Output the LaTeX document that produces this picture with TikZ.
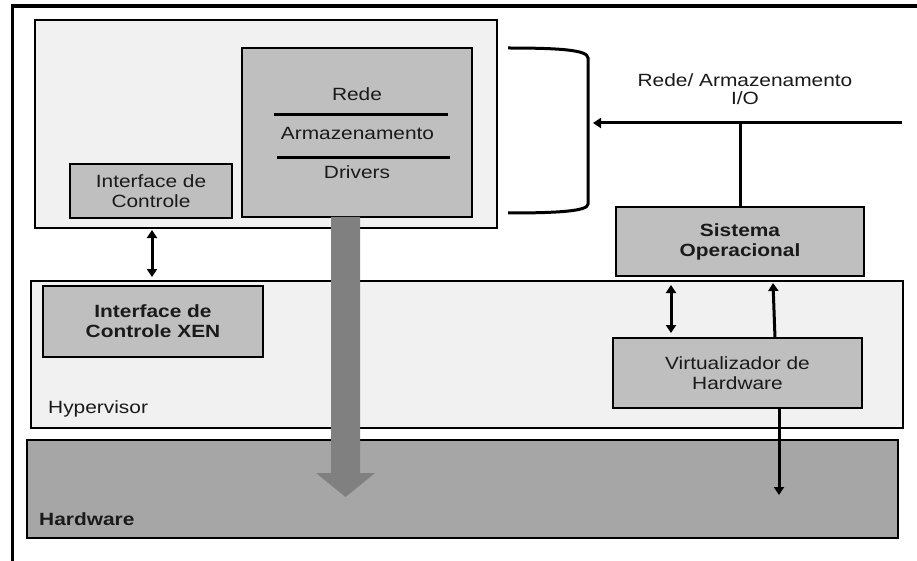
\documentclass[tikz,border=0pt]{standalone}
\usepackage{fontspec}
\setmainfont{Liberation Sans}[FakeStretch=1.18]
\usetikzlibrary{arrows.meta}
\definecolor{panel}{HTML}{F1F1F1}
\definecolor{boxgray}{HTML}{BFBFBF}
\definecolor{hwgray}{HTML}{A6A6A6}
\definecolor{flowgray}{HTML}{808080}
\definecolor{ink}{HTML}{1A1A1A}
\begin{document}
\begin{tikzpicture}[x=1pt,y=-1pt,
  panelbox/.style={draw, line width=2pt, fill=panel, inner sep=0, outer sep=0},
  box/.style={draw, line width=2pt, fill=boxgray, inner sep=0, outer sep=0,
    text=ink, font=\fontsize{17.7}{20}\selectfont, align=center},
  hwbox/.style={draw, line width=2pt, fill=hwgray, inner sep=0, outer sep=0},
  lbl/.style={text=ink, font=\fontsize{17.7}{20}\selectfont, align=center, inner sep=0},
  conn/.style={line width=3pt, -{Triangle[length=8pt,width=10pt]}},
  dbl/.style={line width=3pt, {Triangle[length=8pt,width=10pt]}-{Triangle[length=8pt,width=10pt]}},
  ]
\useasboundingbox (0,0) rectangle (917,561);
\fill[white] (0,0) rectangle (917,561);

% outer frame
\draw[line width=3.2pt] (12.7,565) -- (12.7,6) -- (920,6);

% domain 0 panel with its driver stack and control interface
\node[panelbox, minimum width=462pt, minimum height=208pt] (dom0) at (266,124) {};
\node[box, minimum width=230pt, minimum height=169pt] (drv) at (357,132.5) {};
\node[lbl] (rede) at (357,94) {Rede};
\node[lbl] (armaz) at (357.5,133) {Armazenamento};
\node[lbl] (drivers) at (357,172) {Drivers};
\draw[line width=3pt] (274,115) -- (448,115);
\draw[line width=3pt] (277,158) -- (450,158);
\node[box, minimum width=162pt, minimum height=54pt] (ctl) at (151,191) {Interface de\\Controle};

% hypervisor layer
\node[panelbox, minimum width=872pt, minimum height=147pt] (hyp) at (467,354.5) {};
\node[box, minimum width=220pt, minimum height=71pt, font=\fontsize{17.7}{20}\selectfont\bfseries] (xen) at (153,321.5) {Interface de\\Controle XEN};
\node[box, minimum width=249pt, minimum height=70pt] (virt) at (737.5,373) {Virtualizador de\\Hardware};
\node[lbl, anchor=west] (hyplbl) at (48,409) {Hypervisor};

% hardware layer
\node[hwbox, minimum width=871pt, minimum height=98pt] (hw) at (462.5,489) {};
\node[lbl, anchor=west, font=\fontsize{17.7}{20}\selectfont\bfseries] (hwlbl) at (39,519) {Hardware};

% wide flow from the driver stack down to the hardware
\fill[flowgray] (331,217) -- (331,473) -- (316,473) -- (345.5,497) -- (375,473) -- (360,473) -- (360,217) -- cycle;

% guest operating system
\node[box, minimum width=248pt, minimum height=69pt, font=\fontsize{17.7}{20}\selectfont\bfseries] (sysop) at (740,241.5) {Sistema\\Operacional};

% bracket around the driver stack and the I/O path
\draw[line width=3pt] (508,48) .. controls (560,48) and (588,50) .. (588,58) -- (588,204) .. controls (588,211) and (560,213) .. (508,213);
\coordinate (ioin) at (902,123);
\coordinate (brk) at (593,123);
\draw[conn] (ioin) -- (brk);
\draw[line width=3pt] (sysop.north) -- (sysop.north |- ioin);
\node[lbl] (iolbl) at (745,89) {Rede/ Armazenamento\\[-2pt]I/O};

% control and virtualisation connectors
\draw[dbl] ([xshift=1pt, yshift=-2pt]dom0.south -| ctl) -- ([xshift=1pt, yshift=4pt]hyp.north -| ctl);
\draw[dbl] ([xshift=-69pt, yshift=-9pt]sysop.south) -- ([xshift=-66.5pt, yshift=5pt]virt.north);
\draw[conn] ([xshift=37.5pt]virt.north) -- ([xshift=33pt, yshift=-7pt]sysop.south);
\coordinate (hwin) at (779,495);
\draw[conn] ([xshift=41.5pt]virt.south) -- (hwin);
\end{tikzpicture}
\end{document}
